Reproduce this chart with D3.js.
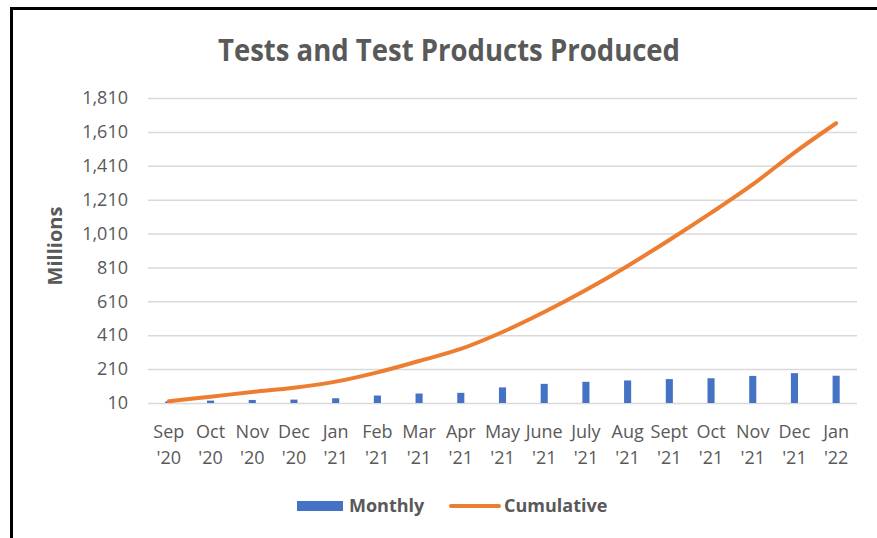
<!DOCTYPE html>
<html>
<head>
    <meta charset="UTF-8">
    <title>Tests and Test Products Produced</title>
    <style>
        body {
            margin: 0;
            background-color: #FFFFFF;
        }
        svg {
            display: block;
            font-family: "Open Sans", sans-serif;
        }
    </style>
</head>
<body>
    <div id="chart"></div>
    <script src="https://cdn.jsdelivr.net/npm/d3@7"></script>
    <script>
        // data (millions)
        let months = ["Sep '20", "Oct '20", "Nov '20", "Dec '20", "Jan '21", "Feb '21", "Mar '21", "Apr '21",
            "May '21", "June '21", "July '21", "Aug '21", "Sept '21", "Oct '21", "Nov '21", "Dec '21", "Jan '22"];
        let monthly = [20, 24, 28, 30, 38, 54, 66, 70, 102, 123, 135, 143, 151, 156, 170, 186, 171];
        let cumulative = [20, 47, 75, 100, 136, 191, 258, 329, 429, 547, 677, 819, 972, 1132, 1300, 1488, 1661];
        let yTicks = [10, 210, 410, 610, 810, 1010, 1210, 1410, 1610, 1810];

        let W = 877, H = 538;
        let margin = { top: 98, right: 20, bottom: 135, left: 148 };
        let width = 857 - margin.left,
            height = 403 - margin.top;
        let textColor = "#595959";

        let svg = d3.select("#chart").append("svg")
            .attr("width", W)
            .attr("height", H);

        // frame (only top and left edges are visible in the picture)
        svg.append("rect")
            .attr("x", 11.5).attr("y", 8.5)
            .attr("width", W + 20).attr("height", H + 20)
            .attr("fill", "#fff")
            .attr("stroke", "#000")
            .attr("stroke-width", 3);

        svg.append("text")
            .attr("x", 449).attr("y", 61)
            .attr("text-anchor", "middle")
            .attr("fill", textColor)
            .attr("font-size", 30)
            .attr("font-weight", "bold")
            .attr("textLength", 462)
            .attr("lengthAdjust", "spacingAndGlyphs")
            .text("Tests and Test Products Produced");

        let g = svg.append("g")
            .attr("transform", "translate(" + margin.left + "," + margin.top + ")");

        let x = d3.scaleBand().domain(months).range([0, width]);
        let y = d3.scaleLinear().domain([10, 1810]).range([height, 0]);

        // gridlines + y labels
        let yAxis = g.append("g")
            .call(d3.axisLeft(y).tickValues(yTicks).tickSize(-width).tickPadding(20).tickFormat(d3.format(",")));
        yAxis.select(".domain").remove();
        yAxis.selectAll("line").attr("stroke", "#d9d9d9").attr("stroke-width", 1.5);
        yAxis.selectAll("text").attr("fill", textColor).attr("font-size", 18).attr("font-family", "Open Sans");

        // x labels, two lines each
        let xAxis = g.append("g")
            .attr("transform", "translate(0," + height + ")")
            .call(d3.axisBottom(x).tickSize(0).tickFormat(""));
        xAxis.select(".domain").remove();
        xAxis.selectAll(".tick").each(function(d) {
            let parts = d.split(" ");
            let t = d3.select(this).append("text")
                .attr("fill", textColor)
                .attr("font-size", 18)
                .attr("font-family", "Open Sans")
                .attr("text-anchor", "middle");
            t.append("tspan").attr("x", 0).attr("y", 35).text(parts[0]);
            t.append("tspan").attr("x", 0).attr("y", 61).text(parts[1]);
        });

        // monthly bars
        let barW = x.bandwidth() * 0.17;
        g.selectAll(".bar")
            .data(monthly)
            .enter()
            .append("rect")
            .attr("class", "bar")
            .attr("x", (d, i) => x(months[i]) + x.bandwidth() / 2 - barW / 2)
            .attr("y", d => y(d))
            .attr("width", barW)
            .attr("height", d => y(10) - y(d))
            .attr("fill", "#4472C4");

        // cumulative line (smoothed like the original)
        let line = d3.line()
            .x((d, i) => x(months[i]) + x.bandwidth() / 2)
            .y(d => y(d))
            .curve(d3.curveCatmullRom.alpha(0.5));
        g.append("path")
            .datum(cumulative)
            .attr("d", line)
            .attr("fill", "none")
            .attr("stroke", "#ED7D31")
            .attr("stroke-width", 4)
            .attr("stroke-linecap", "round")
            .attr("stroke-linejoin", "round");

        // y title
        svg.append("text")
            .attr("transform", "translate(62,246) rotate(-90)")
            .attr("text-anchor", "middle")
            .attr("fill", textColor)
            .attr("font-size", 20)
            .attr("font-weight", "bold")
            .text("Millions");

        // legend
        let legend = svg.append("g");
        legend.append("rect")
            .attr("x", 297).attr("y", 501)
            .attr("width", 46).attr("height", 10)
            .attr("fill", "#4472C4");
        legend.append("text")
            .attr("x", 349).attr("y", 512)
            .attr("fill", textColor)
            .attr("font-size", 18)
            .attr("font-weight", "bold")
            .text("Monthly");
        legend.append("line")
            .attr("x1", 451).attr("x2", 499)
            .attr("y1", 506).attr("y2", 506)
            .attr("stroke", "#ED7D31")
            .attr("stroke-width", 4)
            .attr("stroke-linecap", "round");
        legend.append("text")
            .attr("x", 504).attr("y", 512)
            .attr("fill", textColor)
            .attr("font-size", 18)
            .attr("font-weight", "bold")
            .text("Cumulative");
    </script>
</body>
</html>
